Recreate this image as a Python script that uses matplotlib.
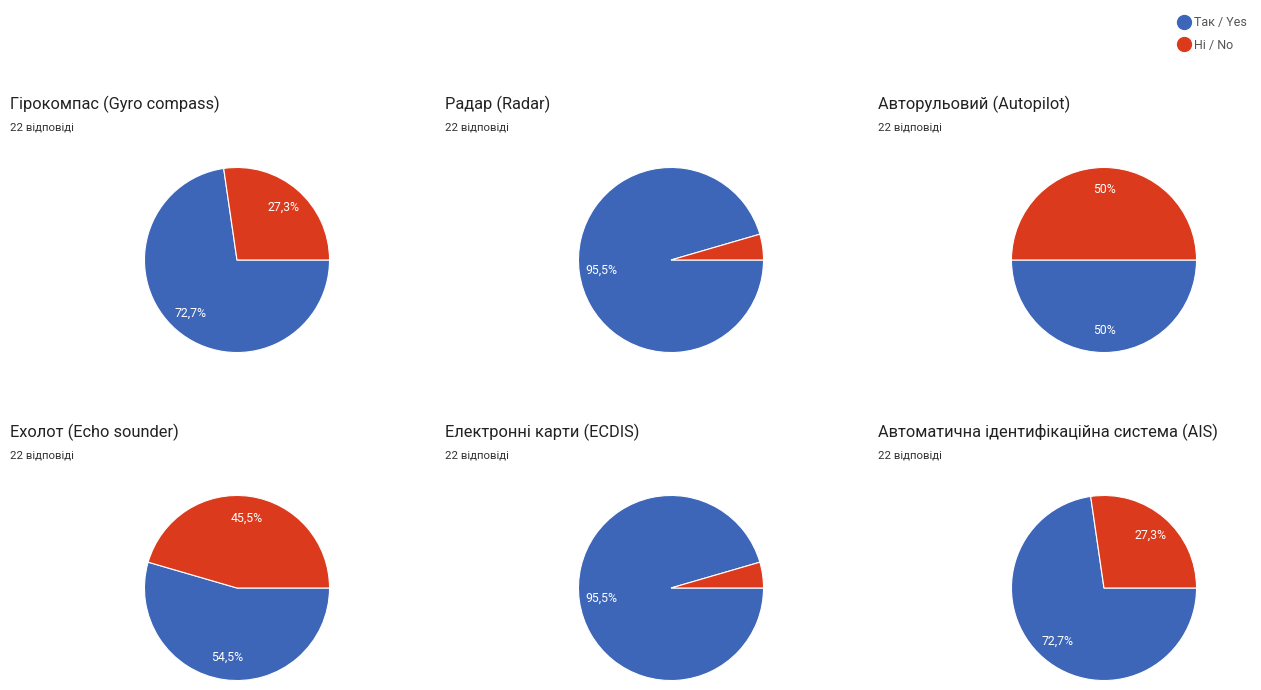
import matplotlib.pyplot as plt
from matplotlib.lines import Line2D

plt.rcParams['font.family'] = ['Roboto', 'DejaVu Sans']

titles = [
    'Гірокомпас (Gyro compass)',
    'Радар (Radar)',
    'Авторульовий (Autopilot)',
    'Ехолот (Echo sounder)',
    'Електронні карти (ECDIS)',
    'Автоматична ідентифікаційна система (AIS)',
]
responses = [22, 22, 22, 22, 22, 22]
yes_pct = [72.7, 95.5, 50, 54.5, 95.5, 72.7]
no_pct = [27.3, 4.5, 50, 45.5, 4.5, 27.3]
legend_labels = ['Так / Yes', 'Ні / No']

colors = ['#3d66b9', '#dc3a1c']

W, H = 1261, 690
fig = plt.figure(figsize=(W / 100, H / 100), dpi=100)

col_x = [237, 671, 1104]
row_y = [260, 588]
text_x = [10, 445, 878]
title_y = [109, 437]
sub_y = [130, 458]
R = 93


def pct_label(p):
    if p < 5:
        return ''
    s = f'{p:.1f}'.replace('.', ',')
    if s.endswith(',0'):
        s = s[:-2]
    return s + '%'


for i, title in enumerate(titles):
    r, c = divmod(i, 3)
    cx, cy = col_x[c], row_y[r]
    ax = fig.add_axes([(cx - R) / W, 1 - (cy + R) / H, 2 * R / W, 2 * R / H])
    wedges, texts, autotexts = ax.pie(
        [yes_pct[i], no_pct[i]], colors=colors, startangle=0, counterclock=False,
        autopct=pct_label, pctdistance=0.76,
        wedgeprops=dict(edgecolor='white', linewidth=0.8),
        textprops=dict(color='white', fontsize=8.8))
    ax.set_xlim(-1.005, 1.005)
    ax.set_ylim(-1.005, 1.005)
    ax.set_aspect('equal')
    ax.axis('off')

    fig.text(text_x[c] / W, 1 - title_y[r] / H, title, fontsize=11.8,
             color='#222222', va='baseline', ha='left')
    fig.text(text_x[c] / W, 1 - sub_y[r] / H, f'{responses[i]} відповіді',
             fontsize=8.2, color='#333333', va='baseline', ha='left')

# legend at top right
handles = [Line2D([], [], marker='o', linestyle='', markersize=10,
                  markerfacecolor=col, markeredgecolor=col) for col in colors]
fig.legend(handles, legend_labels, loc='upper left',
           bbox_to_anchor=(1171 / W, 1 - 10 / H), frameon=False,
           fontsize=9, labelcolor='#555555', handletextpad=0.35,
           labelspacing=0.75, handlelength=1.0, borderpad=0)

fig.savefig('out.png', dpi=100, facecolor='white')
